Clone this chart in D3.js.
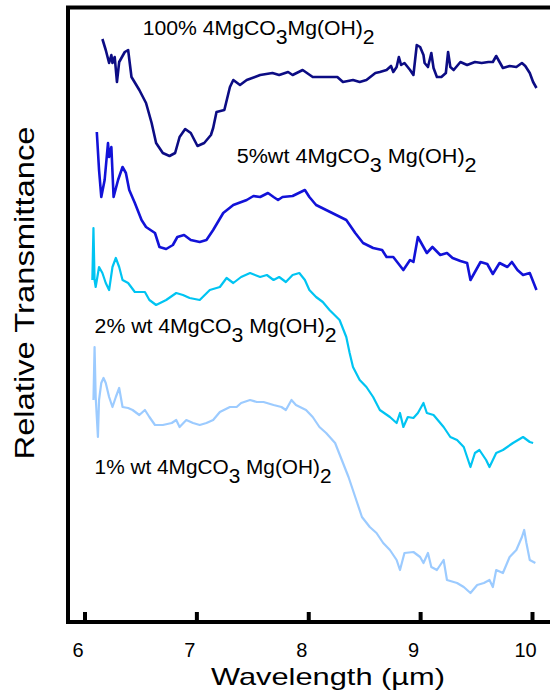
<!DOCTYPE html>
<html>
<head>
<meta charset="utf-8">
<script src="https://cdn.jsdelivr.net/npm/d3@7/dist/d3.min.js"></script>
<style>
  body { margin: 0; background: #fff; }
  svg { display: block; font-family: "Liberation Sans", Arial, sans-serif; }
</style>
</head>
<body>
<div id="chart"></div>
<script>
// wavelength (um), relative transmittance (arbitrary units, curves offset)
const pure100 = [
  [6.16, 58.3], [6.19, 57.2], [6.22, 55.9], [6.24, 56.7], [6.25, 55.9], [6.27, 56.5],
  [6.29, 54.0], [6.31, 56.0], [6.36, 57.0], [6.39, 57.2], [6.42, 54.5], [6.49, 53.2],
  [6.55, 51.9], [6.60, 49.9], [6.64, 47.9], [6.70, 46.9], [6.76, 46.6], [6.81, 46.9],
  [6.85, 48.5], [6.90, 49.3], [6.95, 48.9], [7.01, 47.6], [7.07, 47.9], [7.13, 48.7],
  [7.15, 49.4], [7.18, 51.0], [7.25, 51.2], [7.30, 53.5], [7.33, 54.2], [7.39, 53.7],
  [7.45, 54.2], [7.57, 54.7], [7.68, 54.9], [7.74, 54.7], [7.82, 55.0], [7.86, 54.7],
  [7.95, 55.2], [8.04, 54.5], [8.17, 54.5], [8.26, 54.5], [8.31, 54.0], [8.40, 54.2],
  [8.46, 54.0], [8.52, 54.2], [8.60, 54.9], [8.64, 55.0], [8.70, 55.2], [8.74, 55.6],
  [8.76, 55.0], [8.79, 55.5], [8.81, 56.5], [8.83, 55.7], [8.86, 55.9], [8.91, 55.2],
  [8.94, 54.7], [8.97, 57.7], [9.00, 57.5], [9.03, 56.7], [9.04, 55.9], [9.07, 55.5],
  [9.10, 56.9], [9.12, 55.4], [9.15, 54.5], [9.19, 54.5], [9.23, 54.9], [9.25, 57.0],
  [9.27, 55.5], [9.30, 55.2], [9.36, 56.0], [9.42, 55.7], [9.49, 56.0], [9.55, 55.9],
  [9.61, 56.0], [9.65, 56.0], [9.68, 56.6], [9.71, 56.0], [9.74, 55.4], [9.80, 55.6],
  [9.86, 55.5], [9.91, 55.9], [9.94, 55.6], [9.98, 54.9], [10.01, 54.0], [10.04, 53.4]
]
const wt5 = [
  [6.11, 49.0], [6.13, 45.2], [6.15, 42.5], [6.18, 44.2], [6.21, 47.9], [6.22, 46.5],
  [6.24, 47.5], [6.26, 42.5], [6.30, 44.2], [6.34, 45.5], [6.37, 44.9], [6.40, 43.2],
  [6.45, 41.9], [6.51, 40.2], [6.55, 39.5], [6.63, 38.9], [6.67, 37.5],
  [6.73, 37.3], [6.79, 37.7], [6.83, 38.5], [6.89, 38.7], [6.95, 38.2], [7.03, 38.0],
  [7.09, 38.2], [7.15, 39.2], [7.24, 40.9], [7.33, 41.7], [7.45, 42.2], [7.51, 42.6],
  [7.57, 42.5], [7.64, 42.9], [7.69, 42.5], [7.73, 42.2], [7.77, 42.5], [7.86, 42.6],
  [7.97, 43.2], [8.01, 42.5], [8.07, 41.7], [8.16, 41.2], [8.25, 40.7], [8.34, 40.2],
  [8.42, 38.9], [8.49, 37.9], [8.58, 37.4], [8.66, 37.2], [8.70, 36.5], [8.76, 36.5],
  [8.85, 35.2], [8.91, 36.2], [8.94, 36.0], [8.98, 38.5], [9.03, 37.5], [9.06, 36.9],
  [9.11, 37.5], [9.18, 36.7], [9.24, 36.9], [9.29, 36.4], [9.36, 36.1], [9.42, 35.9],
  [9.45, 34.2], [9.54, 36.0], [9.60, 35.8], [9.65, 34.8], [9.71, 35.9], [9.78, 35.5],
  [9.82, 36.0], [9.87, 35.2], [9.92, 34.7], [9.98, 34.9], [10.04, 33.2]
]
const wt2 = [
  [6.07, 34.2], [6.08, 39.4], [6.09, 34.2], [6.10, 33.5], [6.13, 35.5], [6.16, 34.9],
  [6.19, 33.9], [6.22, 33.2], [6.25, 35.5], [6.28, 36.4], [6.31, 35.5], [6.34, 34.2],
  [6.39, 33.9], [6.45, 33.0], [6.51, 33.0], [6.54, 33.0],
  [6.58, 32.2], [6.64, 31.7], [6.73, 32.2], [6.82, 32.9], [6.88, 32.7], [6.94, 32.4],
  [7.03, 32.2], [7.12, 33.2], [7.21, 33.5], [7.27, 34.4], [7.33, 33.9], [7.40, 34.5],
  [7.48, 34.9], [7.57, 34.5], [7.63, 34.7], [7.69, 34.2], [7.74, 34.5], [7.80, 34.0],
  [7.86, 34.7], [7.92, 34.9], [7.97, 34.2], [8.01, 33.2], [8.07, 32.5], [8.13, 32.0],
  [8.19, 31.2], [8.28, 30.2], [8.34, 28.5], [8.37, 26.9], [8.40, 25.5], [8.46, 24.2],
  [8.52, 23.5], [8.58, 22.5], [8.64, 21.2], [8.73, 20.5], [8.79, 19.9], [8.82, 20.9],
  [8.85, 19.5], [8.89, 20.5], [8.94, 20.4], [8.98, 20.9], [9.03, 21.9], [9.06, 20.9],
  [9.12, 20.7], [9.21, 19.5], [9.27, 18.5], [9.33, 18.2], [9.39, 17.5], [9.45, 15.5],
  [9.49, 16.9], [9.53, 17.2], [9.59, 16.2], [9.62, 15.5], [9.68, 16.9], [9.74, 17.2],
  [9.83, 17.9], [9.92, 18.5], [9.98, 18.0], [10.01, 17.9]
]
const wt1 = [
  [6.08, 22.2], [6.09, 27.5], [6.10, 22.5], [6.12, 18.5], [6.13, 22.2], [6.15, 23.9],
  [6.17, 24.4], [6.19, 23.9], [6.22, 22.5], [6.25, 21.5], [6.28, 22.5], [6.31, 23.4],
  [6.34, 21.5], [6.39, 21.4], [6.43, 21.2], [6.49, 20.7], [6.54, 21.2], [6.58, 20.5],
  [6.63, 19.7], [6.70, 19.7], [6.78, 19.9], [6.82, 20.2], [6.85, 19.5], [6.91, 20.2],
  [6.97, 19.9], [7.03, 19.7], [7.09, 19.9], [7.15, 20.2], [7.21, 21.0], [7.30, 21.5],
  [7.36, 21.5], [7.40, 21.9], [7.48, 22.2], [7.54, 22.0], [7.60, 22.0], [7.69, 21.7],
  [7.76, 21.5], [7.80, 21.2], [7.85, 22.2], [7.89, 21.7], [7.98, 21.2], [8.04, 20.5],
  [8.10, 19.5], [8.16, 18.9], [8.24, 17.9], [8.30, 16.2], [8.36, 14.5], [8.42, 12.5],
  [8.48, 10.5], [8.55, 9.5], [8.61, 8.9], [8.67, 7.9], [8.73, 7.2], [8.79, 6.2],
  [8.82, 5.2], [8.86, 6.9], [8.94, 7.0], [9.00, 6.5], [9.03, 5.9], [9.07, 6.9],
  [9.10, 5.5], [9.15, 5.2], [9.21, 6.2], [9.24, 4.2], [9.33, 3.9], [9.39, 3.5],
  [9.45, 2.9], [9.51, 3.7], [9.57, 3.9], [9.62, 4.2], [9.65, 3.5], [9.68, 5.2],
  [9.74, 4.9], [9.80, 6.5], [9.86, 7.2], [9.91, 8.5], [9.93, 9.2], [9.95, 7.9],
  [9.98, 6.2], [10.03, 5.9]
]

const xTicks = [6, 7, 8, 9, 10]
const series = [
  { data: pure100, color: '#0c0c84', width: 2.6 },
  { data: wt5, color: '#1212d8', width: 2.6 },
  { data: wt2, color: '#00c4f2', width: 2.2 },
  { data: wt1, color: '#9ccbff', width: 2.2 }
]
// label: [lead text, sub, middle text, sub], at wavelength / transmittance
const labels = [
  { parts: ['100% 4MgCO', '3', 'Mg(OH)', '2'], at: [6.52, 58.7], len: 232 },
  { parts: ['5%wt  4MgCO', '3', ' Mg(OH)', '2'], at: [7.36, 45.9], len: 240 },
  { parts: ['2% wt  4MgCO', '3', ' Mg(OH)', '2'], at: [6.09, 28.9], len: 242 },
  { parts: ['1% wt  4MgCO', '3', ' Mg(OH)', '2'], at: [6.09, 14.8], len: 237 }
]

const width = 550
const height = 692

const svg = d3.select('#chart').append('svg')
  .attr('width', width)
  .attr('height', height)

const x = d3.scaleLinear().domain([6, 10]).range([84.5, 532])
const y = d3.scaleLinear().domain([0, 61.2]).range([622, 10])

// frame: left, top, bottom (right edge is outside the picture)
svg.append('path')
  .attr('d', 'M550,7.5H68V622H550')
  .attr('fill', 'none')
  .attr('stroke', '#000')
  .attr('stroke-width', 4)

const axis = svg.append('g')
  .attr('transform', 'translate(0,622)')
  .call(d3.axisBottom(x)
    .tickValues(xTicks)
    .tickFormat(d3.format('d'))
    .tickSizeInner(-10)
    .tickSizeOuter(0)
    .tickPadding(21))
axis.select('.domain').remove()
axis.selectAll('.tick line').attr('stroke', '#000').attr('stroke-width', 4)
axis.selectAll('.tick text')
  .attr('fill', '#000')
  .attr('font-size', 20)
  .attr('font-family', '"Liberation Sans", Arial, sans-serif')
  .attr('dx', -7)

const line = d3.line()
  .x(function (d) { return x(d[0]) })
  .y(function (d) { return y(d[1]) })

svg.append('g')
  .attr('class', 'curves')
  .selectAll('path')
  .data(series)
  .enter().append('path')
  .attr('d', function (d) { return line(d.data) })
  .attr('fill', 'none')
  .attr('stroke', function (d) { return d.color })
  .attr('stroke-width', function (d) { return d.width })
  .attr('stroke-linejoin', 'round')

const lab = svg.append('g')
  .attr('class', 'labels')
  .selectAll('text')
  .data(labels)
  .enter().append('text')
  .attr('x', function (d) { return x(d.at[0]) })
  .attr('y', function (d) { return y(d.at[1]) })
  .attr('font-size', 20)
  .attr('fill', '#000')
  .attr('textLength', function (d) { return d.len })
  .attr('lengthAdjust', 'spacingAndGlyphs')

lab.each(function (d) {
  let t = d3.select(this)
  t.append('tspan').text(d.parts[0])
  t.append('tspan').attr('dy', 9).text(d.parts[1])
  t.append('tspan').attr('dy', -9).text(d.parts[2])
  t.append('tspan').attr('dy', 9).text(d.parts[3])
})

svg.append('text')
  .attr('x', 328)
  .attr('y', 685)
  .attr('text-anchor', 'middle')
  .attr('font-size', 24)
  .attr('textLength', 234)
  .attr('lengthAdjust', 'spacingAndGlyphs')
  .text('Wavelength (µm)')

svg.append('text')
  .attr('transform', 'translate(34,293) rotate(-90)')
  .attr('text-anchor', 'middle')
  .attr('font-size', 27)
  .attr('textLength', 333)
  .attr('lengthAdjust', 'spacingAndGlyphs')
  .text('Relative  Transmittance')
</script>
</body>
</html>
